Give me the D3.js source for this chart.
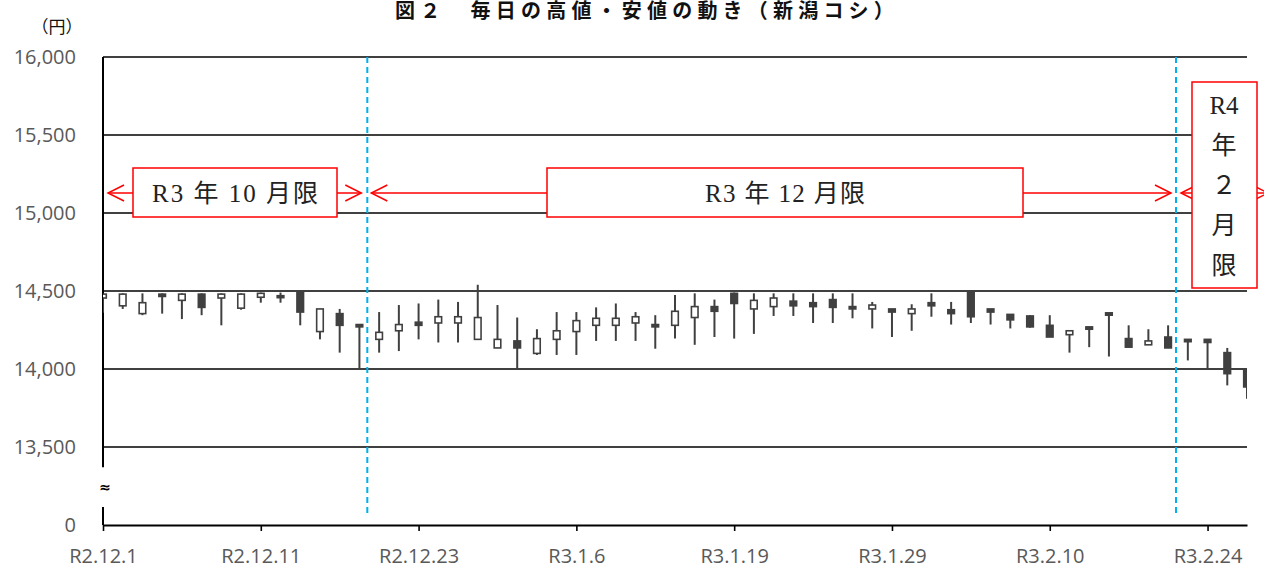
<!DOCTYPE html>
<html><head><meta charset="utf-8">
<script src="https://cdn.jsdelivr.net/npm/d3@7"></script>
<style>body{margin:0;background:#fff;} svg{display:block;}</style>
</head><body>
<svg id="chart" width="1264" height="569"></svg>
<script>
// ---------- DATA ----------
const dates = ["R2.12.1","R2.12.2","R2.12.3","R2.12.4","R2.12.7","R2.12.8","R2.12.9","R2.12.10","R2.12.11",
 "R2.12.14","R2.12.15","R2.12.16","R2.12.17","R2.12.18","R2.12.21","R2.12.22","R2.12.23",
 "R2.12.24","R2.12.25","R2.12.28","R2.12.29","R2.12.30","R3.1.4","R3.1.5","R3.1.6",
 "R3.1.7","R3.1.8","R3.1.12","R3.1.13","R3.1.14","R3.1.15","R3.1.18","R3.1.19",
 "R3.1.20","R3.1.21","R3.1.22","R3.1.25","R3.1.26","R3.1.27","R3.1.28","R3.1.29",
 "R3.2.1","R3.2.2","R3.2.3","R3.2.4","R3.2.5","R3.2.8","R3.2.9","R3.2.10",
 "R3.2.12","R3.2.15","R3.2.16","R3.2.17","R3.2.18","R3.2.19","R3.2.22","R3.2.24",
 "R3.2.25","R3.2.26"];
const openV  = [14455,14405,14355,14480,14440,14480,14455,14390,14460,14470,14490,14240,14355,14285,14190,14245,14300,14295,14295,14190,
 14135,14180,14100,14190,14240,14280,14280,14295,14285,14280,14330,14400,14485,14385,14400,14435,14425,14445,14400,14385,
 14385,14355,14425,14380,14495,14385,14350,14340,14280,14220,14270,14360,14195,14155,14205,14190,14190,14105,13995];
const highV  = [14480,14485,14485,14485,14485,14485,14485,14485,14490,14490,14495,14385,14385,14285,14365,14410,14420,14445,14430,14540,
 14410,14330,14255,14365,14365,14395,14420,14365,14345,14475,14485,14445,14490,14485,14485,14485,14485,14485,14485,14430,
 14385,14415,14485,14430,14500,14385,14350,14345,14345,14245,14270,14360,14280,14255,14280,14190,14190,14135,13995];
const lowV   = [14360,14385,14345,14355,14320,14345,14280,14380,14425,14425,14280,14190,14105,14000,14105,14115,14190,14170,14170,14190,
 14135,14000,14090,14090,14090,14180,14180,14180,14130,14195,14155,14205,14195,14225,14340,14340,14295,14295,14325,14260,
 14205,14245,14335,14285,14295,14285,14260,14265,14205,14105,14140,14080,14140,14155,14135,14055,14000,13895,13810];
const closeV = [14480,14480,14425,14465,14480,14395,14480,14480,14485,14460,14365,14385,14280,14270,14235,14285,14280,14335,14335,14330,
 14190,14135,14195,14245,14310,14325,14325,14335,14270,14370,14400,14370,14420,14440,14455,14405,14400,14395,14385,14410,
 14365,14385,14405,14355,14335,14365,14315,14270,14205,14245,14255,14345,14140,14180,14135,14175,14170,13970,13885];
const tickIndex = [0,8,16,24,32,40,48,56];
const yTicks = [13000,13500,14000,14500,15000,15500,16000];
const yTickLabels = ["0","13,500","14,000","14,500","15,000","15,500","16,000"];
const axisBreak = [13115,13370];
const contractSwitch = [13.4, 54.4];
const contractLabels = ["R3 年 10 月限","R3 年 12 月限"];
const verticalLabel = ["R4","年","２","月","限"];
const titleText = "図２　毎日の高値・安値の動き（新潟コシ）";
const unitText = "（円）";

// ---------- CHART ----------
const svg = d3.select("#chart");
const L = 103, R = 1247, T = 57, B = 525;
const x = d3.scaleLinear().domain([0, dates.length - 1]).range([L, R]);
const y = d3.scaleLinear().domain([13000, 16000]).range([B, T]);
const sansJP = "'Noto Sans CJK JP', 'Noto Sans', sans-serif";
const axisFont = "'Open Sans', 'Noto Sans', sans-serif";
const serifJP = "'Liberation Serif', 'DejaVu Serif', 'Noto Sans CJK JP', serif";

svg.append("text").attr("x", 647).attr("y", 18).attr("text-anchor", "middle")
  .attr("font-family", sansJP).attr("font-weight", "bold")
  .attr("font-size", 20).attr("letter-spacing", 5.2).attr("fill", "#111").text(titleText);
svg.append("text").attr("x", 57).attr("y", 25).attr("text-anchor", "middle")
  .attr("dominant-baseline", "central").attr("font-family", sansJP).attr("font-size", 17).attr("fill", "#111").text(unitText);

// gridlines
svg.append("g").selectAll("line").data(yTicks.filter(v => v > 13000)).join("line")
  .attr("x1", L).attr("x2", R).attr("y1", d => y(d)).attr("y2", d => y(d))
  .attr("stroke", "#000").attr("stroke-width", 1.6);

// y axis labels
const ya = svg.append("g").attr("transform", `translate(${L},0)`)
  .call(d3.axisLeft(y).tickValues(yTicks).tickFormat((d, i) => yTickLabels[i]).tickSize(0).tickPadding(27));
ya.select(".domain").remove();
ya.selectAll("text").attr("font-family", axisFont).attr("font-size", 20).attr("fill", "#595959");

// broken left axis
svg.append("line").attr("x1", L).attr("x2", L).attr("y1", y(16000)).attr("y2", y(axisBreak[1])).attr("stroke", "#000").attr("stroke-width", 2);
svg.append("line").attr("x1", L).attr("x2", L).attr("y1", y(axisBreak[0])).attr("y2", y(13000)).attr("stroke", "#000").attr("stroke-width", 2);
svg.append("text").attr("x", L + 2).attr("y", y((axisBreak[0] + axisBreak[1]) / 2)).attr("text-anchor", "middle")
  .attr("dominant-baseline", "central").attr("font-family", "'DejaVu Sans', sans-serif").attr("font-weight", "bold")
  .attr("font-size", 14).attr("fill", "#000").text("≈");

// blue dashed contract switches
svg.append("g").selectAll("line").data(contractSwitch).join("line")
  .attr("x1", d => x(d)).attr("x2", d => x(d)).attr("y1", T).attr("y2", 513)
  .attr("stroke", "#00B0F0").attr("stroke-width", 2).attr("stroke-dasharray", "6,4");

// candles
svg.append("defs").append("clipPath").attr("id", "clip").append("rect")
  .attr("x", L).attr("y", 0).attr("width", R - L).attr("height", 569);
const idx = d3.range(dates.length);
const cg = svg.append("g").attr("clip-path", "url(#clip)");
cg.selectAll("line.wick").data(idx).join("line").attr("class", "wick")
  .attr("x1", i => x(i)).attr("x2", i => x(i)).attr("y1", i => y(highV[i])).attr("y2", i => y(lowV[i]))
  .attr("stroke", "#404040").attr("stroke-width", 2);
cg.selectAll("rect.body").data(idx).join("rect").attr("class", "body")
  .attr("x", i => x(i) - 3.3).attr("width", 6.6)
  .attr("y", i => y(Math.max(openV[i], closeV[i])))
  .attr("height", i => Math.max(Math.abs(y(openV[i]) - y(closeV[i])), 2))
  .attr("fill", i => closeV[i] >= openV[i] ? "#fff" : "#404040")
  .attr("stroke", "#404040").attr("stroke-width", 1.6);

// x axis
const xa = svg.append("g").attr("transform", `translate(0,${B})`)
  .call(d3.axisBottom(x).tickValues(tickIndex).tickFormat(i => dates[i]).tickSize(6).tickSizeOuter(0).tickPadding(18));
xa.select(".domain").attr("stroke", "#000").attr("stroke-width", 2);
xa.selectAll(".tick line").attr("stroke", "#000").attr("stroke-width", 1.6);
xa.selectAll("text").attr("font-family", axisFont).attr("font-size", 20).attr("fill", "#595959");

// annotations
const red = "#FF0000";
const ay = 193;
function arrow(x1, x2) {
  const g = svg.append("g").attr("stroke", red).attr("stroke-width", 1.5).attr("fill", "none");
  g.append("line").attr("x1", x1).attr("x2", x2).attr("y1", ay).attr("y2", ay);
  g.append("path").attr("d", `M${x1 + 16},${ay - 8}L${x1},${ay}L${x1 + 16},${ay + 8}`);
  g.append("path").attr("d", `M${x2 - 16},${ay - 8}L${x2},${ay}L${x2 - 16},${ay + 8}`);
}
arrow(x(0) + 5, x(contractSwitch[0]) - 6);
arrow(x(contractSwitch[0]) + 4, x(contractSwitch[1]) - 5);
arrow(x(contractSwitch[1]) + 5, 1268);

function hbox(cx, w, label, tl) {
  svg.append("rect").attr("x", cx - w / 2).attr("y", 168).attr("width", w).attr("height", 49)
    .attr("fill", "#fff").attr("stroke", red).attr("stroke-width", 1.5);
  svg.append("text").attr("x", cx).attr("y", 193).attr("text-anchor", "middle").attr("dominant-baseline", "central")
    .attr("font-family", serifJP).attr("font-size", 25).attr("fill", "#222")
    .attr("textLength", tl).attr("lengthAdjust", "spacing").text(label);
}
hbox(235, 204, contractLabels[0], 166);
hbox(785, 476, contractLabels[1], 160);

svg.append("rect").attr("x", 1192).attr("y", 82).attr("width", 65).attr("height", 206)
  .attr("fill", "#fff").attr("stroke", red).attr("stroke-width", 1.5);
svg.append("g").selectAll("text").data(verticalLabel).join("text")
  .attr("x", 1224).attr("y", (d, i) => 105 + i * 40).attr("text-anchor", "middle").attr("dominant-baseline", "central")
  .attr("font-family", serifJP).attr("font-size", 25).attr("fill", "#222").text(d => d);
</script>
</body></html>
